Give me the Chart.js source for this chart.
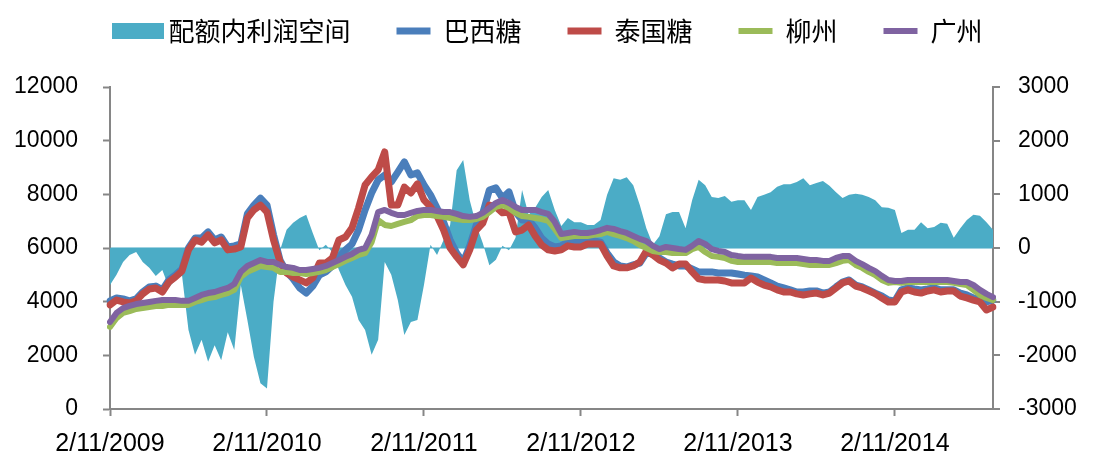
<!DOCTYPE html>
<html>
<head>
<meta charset="utf-8">
<title>配额内利润空间</title>
<style>
  html, body { margin: 0; padding: 0; background: #fff; }
</style>
<script src="https://cdn.jsdelivr.net/npm/chart.js@4.4.1/dist/chart.umd.min.js"></script>
</head>
<body>
<canvas id="myChart" width="1104" height="454"></canvas>
<script>
// values, one point every half month from 2/11/2009
const profitSpace = [ // 配额内利润空间 (right axis)
  -690, -500, -260, -130, -75, -260, -370, -520, -410, -730,
  -600, -500, -1530, -1990, -1710, -2120, -1810, -2090, -1570, -1900,
  -690, -1340, -2030, -2520, -2620, -1000, -40, 340, 470, 560,
  620, 280, -40, 60, -80, -410, -690, -910, -1340, -1530,
  -1990, -1710, -260, -500, -970, -1620, -1380, -1340, -690, 60,
  -130, 150, 430, 1450, 1640, 890, 430, 90, -320, -220,
  40, -40, 190, 1080, 620, 750, 950, 1080, 710, 410,
  560, 480, 480, 430, 430, 520, 990, 1300, 1270, 1320,
  1170, 800, 370, 60, 220, 630, 670, 670, 370, 890,
  1270, 1170, 950, 930, 970, 860, 890, 890, 710, 950,
  990, 1040, 1140, 1190, 1190, 1230, 1300, 1170, 1210, 1250,
  1160, 1040, 930, 990, 1010, 990, 950, 890, 760, 750,
  710, 280, 340, 340, 480, 370, 390, 470, 450, 190,
  370, 520, 620, 600, 480, 340
];
const brazil = [ // 巴西糖
  4030, 4140, 4100, 4030, 4100, 4360, 4550, 4580, 4440, 4810,
  4990, 5220, 6000, 6370, 6370, 6600, 6300, 6410, 6040, 6080,
  6150, 7270, 7600, 7860, 7600, 6490, 5550, 5110, 4850, 4510,
  4320, 4580, 4990, 5110, 5330, 5670, 5930, 6150, 6670, 7420,
  8050, 8540, 8720, 8460, 8830, 9210, 8720, 8800, 8350, 7980,
  7490, 6970, 6300, 5810, 5480, 6080, 6860, 7310, 8160, 8240,
  7860, 8090, 7340, 7040, 7040, 6750, 6370, 6150, 6040, 6080,
  6220, 6260, 6260, 6300, 6260, 6220, 5810, 5480, 5330, 5290,
  5370, 5440, 5810, 5780, 5630, 5480, 5400, 5330, 5330, 5220,
  5110, 5110, 5110, 5070, 5070, 5070, 5030, 4990, 4960, 4920,
  4810, 4700, 4580, 4510, 4440, 4360, 4360, 4400, 4400, 4320,
  4360, 4550, 4730, 4810, 4620, 4550, 4440, 4320, 4210, 4060,
  4030, 4440, 4510, 4470, 4440, 4470, 4510, 4440, 4440, 4440,
  4320, 4250, 4140, 4100, 3990, 4060
];
const thailand = [ // 泰国糖
  3880, 4060, 3990, 3950, 4030, 4290, 4470, 4510, 4360, 4730,
  4920, 5140, 5930, 6300, 6220, 6490, 6190, 6300, 5930, 5960,
  6040, 7120, 7420, 7600, 7340, 6300, 5480, 5070, 4920, 4810,
  4700, 4880, 5440, 5440, 5630, 6300, 6410, 6750, 7490, 8350,
  8650, 8910, 9580, 7600, 7600, 8270, 8050, 8390, 7790, 7530,
  7190, 6670, 6000, 5670, 5370, 5930, 6670, 6930, 7600, 7530,
  7310, 7340, 6600, 6670, 6860, 6450, 6110, 5930, 5890, 5930,
  6080, 6040, 6040, 6150, 6150, 6150, 5700, 5330, 5260, 5260,
  5330, 5480, 5890, 5740, 5550, 5440, 5260, 5400, 5400, 5110,
  4850, 4810, 4810, 4810, 4770, 4700, 4700, 4700, 4880, 4730,
  4620, 4550, 4440, 4360, 4360, 4290, 4250, 4290, 4320, 4250,
  4320, 4510, 4700, 4770, 4580, 4510, 4400, 4290, 4140, 3990,
  3990, 4360, 4440, 4360, 4320, 4400, 4440, 4360, 4400, 4400,
  4210, 4140, 4060, 3990, 3690, 3800
];
const liuzhou = [ // 柳州
  3060, 3390, 3580, 3650, 3730, 3760, 3800, 3840, 3840, 3880,
  3880, 3880, 3880, 3990, 4060, 4140, 4170, 4250, 4320, 4440,
  4920, 5110, 5220, 5330, 5290, 5260, 5110, 5110, 5070, 5070,
  5030, 5070, 5110, 5180, 5290, 5400, 5520, 5630, 5740, 5810,
  6220, 7040, 6860, 6820, 6900, 6970, 7040, 7190, 7230, 7230,
  7190, 7160, 7120, 7080, 7040, 7040, 7080, 7160, 7340, 7530,
  7600, 7490, 7310, 7190, 7160, 7120, 7080, 7010, 6710, 6370,
  6410, 6450, 6450, 6450, 6490, 6520, 6600, 6520, 6450, 6370,
  6260, 6110, 6000, 5890, 5850, 5850, 5810, 5810, 5810, 5960,
  6040, 5850, 5700, 5670, 5630, 5520, 5480, 5480, 5480, 5480,
  5480, 5480, 5440, 5440, 5440, 5440, 5400, 5370, 5370, 5370,
  5370, 5440, 5520, 5550, 5370, 5260, 5110, 4990, 4810, 4700,
  4730, 4700, 4730, 4730, 4730, 4730, 4730, 4730, 4730, 4700,
  4660, 4620, 4440, 4250, 4140, 4060
];
const guangzhou = [ // 广州
  3240, 3580, 3760, 3840, 3910, 3950, 3990, 4030, 4060, 4060,
  4060, 4030, 4030, 4140, 4250, 4320, 4360, 4440, 4510, 4660,
  5110, 5330, 5440, 5550, 5480, 5480, 5370, 5290, 5260, 5180,
  5180, 5220, 5260, 5330, 5440, 5550, 5670, 5780, 5930, 6000,
  6490, 7340, 7420, 7310, 7230, 7230, 7310, 7380, 7420, 7420,
  7380, 7340, 7340, 7270, 7190, 7160, 7190, 7310, 7490, 7680,
  7790, 7680, 7530, 7420, 7420, 7420, 7340, 7270, 6970, 6520,
  6560, 6600, 6560, 6560, 6600, 6670, 6750, 6710, 6630, 6560,
  6450, 6340, 6260, 6080, 5960, 6040, 6000, 5960, 5930, 6080,
  6260, 6150, 5960, 5890, 5850, 5740, 5700, 5670, 5670, 5670,
  5670, 5670, 5630, 5630, 5630, 5630, 5590, 5550, 5550, 5520,
  5520, 5630, 5700, 5700, 5520, 5400, 5260, 5140, 4960, 4810,
  4770, 4770, 4810, 4810, 4810, 4810, 4810, 4810, 4810, 4770,
  4730, 4730, 4620, 4440, 4290, 4170
];

// dates: the 2nd and 17th of every month, starting 2/11/2009
const categories = [];
for (let i = 0; i < brazil.length; i++) {
  const m = 10 + Math.floor(i / 2);
  const day = i % 2 ? 17 : 2;
  categories.push(day + "/" + (m % 12 + 1) + "/" + (2009 + Math.floor(m / 12)));
}

const GREY = "#868686";
const NUM_FONT = "'Liberation Sans', sans-serif";
const CJK_FONT = "'Noto Sans CJK SC', sans-serif";

// wide swatch for the area series in the legend
const swatch = document.createElement("canvas");
swatch.width = 52;
swatch.height = 16;
const sctx = swatch.getContext("2d");
sctx.fillStyle = "#4BACC6";
sctx.fillRect(0, 0, 52, 16);

function lineSet(label, data, color, width, order) {
  return {
    type: "line",
    label: label,
    data: data,
    yAxisID: "y",
    borderColor: color,
    backgroundColor: color,
    borderWidth: width,
    borderCapStyle: "round",
    borderJoinStyle: "round",
    pointRadius: 0,
    pointStyle: "line",
    tension: 0,
    fill: false,
    order: order
  };
}

// legend sits higher than the layout would put it
const legendFit = {
  id: "legendFit",
  beforeInit(chart) {
    const fit = chart.legend.fit;
    chart.legend.fit = function () {
      fit.call(this);
      this.height = 115;
    };
  }
};

const plain = (v) => String(v); // no thousands separator

const ctx = document.getElementById("myChart").getContext("2d");
const chart = new Chart(ctx, {
  type: "line",
  data: {
    labels: categories,
    datasets: [
      {
        label: "配额内利润空间",
        data: profitSpace,
        yAxisID: "y1",
        backgroundColor: "#4BACC6",
        borderColor: "#4BACC6",
        borderWidth: 0,
        pointRadius: 0,
        pointStyle: swatch,
        tension: 0,
        fill: "origin",
        order: 5
      },
      lineSet("巴西糖", brazil, "#4A7EBB", 7, 4),
      lineSet("泰国糖", thailand, "#BE4B48", 7, 3),
      lineSet("柳州", liuzhou, "#9BBB59", 6, 2),
      lineSet("广州", guangzhou, "#7F63A1", 6, 1)
    ]
  },
  options: {
    responsive: false,
    animation: false,
    layout: { padding: { top: -28, left: 0, right: 0, bottom: 0 } },
    plugins: {
      legend: {
        position: "top",
        labels: {
          usePointStyle: true,
          pointStyleWidth: 34,
          boxHeight: 16,
          padding: 46,
          color: "#000",
          font: { family: CJK_FONT, size: 26 },
          sort: (a, b) => a.datasetIndex - b.datasetIndex
        }
      },
      tooltip: { enabled: false }
    },
    scales: {
      x: {
        type: "category",
        offset: false,
        border: { color: GREY, width: 2 },
        grid: { drawOnChartArea: false, tickLength: 7, tickColor: GREY, tickWidth: 2 },
        ticks: {
          autoSkip: false,
          maxRotation: 0,
          minRotation: 0,
          padding: 13,
          color: "#000",
          font: { family: NUM_FONT, size: 25 },
          callback: (value, index) => (index % 24 === 0 ? categories[index] : null)
        },
        afterFit(scale) { scale.height = 45; }
      },
      y: {
        position: "left",
        min: 0,
        max: 12000,
        border: { color: GREY, width: 2 },
        grid: { drawOnChartArea: false, tickLength: 7, tickColor: GREY, tickWidth: 2 },
        ticks: { stepSize: 2000, padding: 25, color: "#000", font: { family: NUM_FONT, size: 23 }, callback: plain },
        afterFit(scale) { scale.width = 110; }
      },
      y1: {
        position: "right",
        min: -3000,
        max: 3000,
        border: { color: GREY, width: 2 },
        grid: {
          drawOnChartArea: true,
          color: (c) => (c.tick && c.tick.value === 0 ? "#9FD2E1" : "rgba(0,0,0,0)"),
          lineWidth: 2,
          tickLength: 7,
          tickColor: GREY,
          tickWidth: 2
        },
        ticks: { stepSize: 1000, padding: 18, color: "#000", font: { family: NUM_FONT, size: 23 }, callback: plain },
        afterFit(scale) { scale.width = 111; }
      }
    }
  },
  plugins: [legendFit]
});
</script>
</body>
</html>
